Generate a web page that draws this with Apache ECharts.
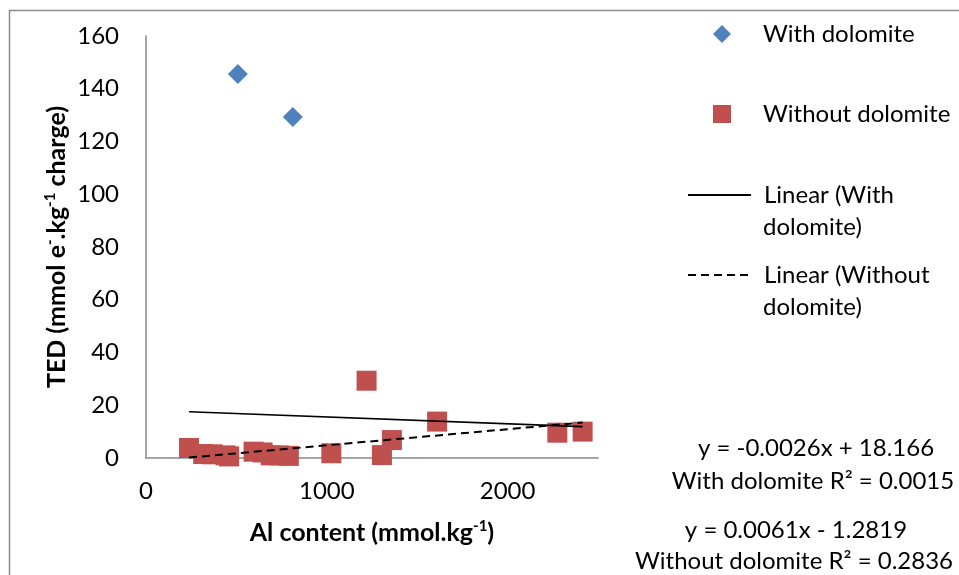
<!DOCTYPE html>
<html>
<head>
<meta charset="utf-8">
<script src="https://cdn.jsdelivr.net/npm/echarts@6/dist/echarts.min.js"></script>
<style>
  html, body { margin: 0; padding: 0; background: #fff; }
  #chart { width: 959px; height: 575px; }
</style>
</head>
<body>
<div id="chart"></div>
<script>
// values
const withDolomite = [[508, 145.6], [812, 129.3]];
const withoutDolomite = [
  [238, 3.8], [316, 1.5], [368, 1.4], [440, 1.0], [460, 0.6],
  [595, 2.4], [645, 2.1], [690, 1.0], [735, 1.0], [790, 0.8],
  [1025, 1.8], [1220, 29.3], [1305, 1.1], [1360, 6.8], [1610, 13.8],
  [2275, 9.6], [2415, 10.0]
];
// trend line end points (Excel linear fits as drawn)
const trendWith = [[238, 17.55], [2415, 11.89]];
const trendWithout = [[238, 0.17], [2415, 13.45]];
const equationLines = [
  'y = -0.0026x + 18.166',
  'With dolomite R\u00B2 = 0.0015',
  'y = 0.0061x - 1.2819',
  'Without dolomite R\u00B2 = 0.2836'
];

const FONT = 'Lato';
const TEXT_SIZE = 24;
const chart = echarts.init(document.getElementById('chart'));

const titleRich = {
  b: { fontFamily: FONT, fontSize: 25, fontWeight: 'bold', color: '#000', lineHeight: 28 },
  s: { fontFamily: FONT, fontSize: 15, fontWeight: 'bold', color: '#000', lineHeight: 28, padding: [0, 0, 13, 0] }
};

const legendText = { fontFamily: FONT, fontSize: TEXT_SIZE, color: '#000' };

function scatterLegend(name, top) {
  return {
    data: [name], left: 713, top: top, padding: 0,
    selectedMode: false, itemWidth: 18, itemHeight: 18,
    textStyle: Object.assign({}, legendText, { padding: [0, 0, 0, 27] })
  };
}

function lineLegend(name, label, top) {
  return {
    data: [name], left: 687, top: top, padding: 0,
    selectedMode: false, itemWidth: 63, itemHeight: 14,
    itemStyle: { opacity: 0 },
    formatter: () => label,
    textStyle: Object.assign({}, legendText, { padding: [0, 0, 0, 8] })
  };
}

function textItem(str, x, y) {
  return {
    type: 'text', x: x, y: y, silent: true,
    style: { text: str, fontFamily: FONT, fontSize: TEXT_SIZE, fill: '#000', align: 'center', verticalAlign: 'middle' }
  };
}

function leftText(str, x, y) {
  return {
    type: 'text', x: x, y: y, silent: true,
    style: { text: str, fontFamily: FONT, fontSize: TEXT_SIZE, fill: '#000', align: 'left', verticalAlign: 'middle' }
  };
}

const option = {
  animation: false,
  backgroundColor: '#fff',
  grid: { left: 146, right: 361, top: 36, bottom: 117 },
  xAxis: {
    type: 'value',
    min: 0,
    max: 2500,
    interval: 1000,
    name: '{b|Al content (mmol.kg}{s|-1}{b|)}',
    nameLocation: 'middle',
    nameGap: 61,
    nameTextStyle: { rich: titleRich },
    axisLine: { lineStyle: { color: '#868686', width: 1.5 } },
    axisTick: { show: false },
    splitLine: { show: false },
    axisLabel: {
      fontFamily: FONT, fontSize: TEXT_SIZE, color: '#000', margin: 21,
      showMaxLabel: false, formatter: (v) => String(v)
    }
  },
  yAxis: {
    type: 'value',
    min: 0,
    max: 160,
    interval: 20,
    name: '{b|TED (mmol e}{s|-}{b|.kg}{s|-1}{b| charge)}',
    nameLocation: 'middle',
    nameGap: 75,
    nameTextStyle: { rich: titleRich },
    axisLine: { show: true, lineStyle: { color: '#868686', width: 1.5 } },
    axisTick: { show: false },
    splitLine: { show: false },
    axisLabel: { fontFamily: FONT, fontSize: TEXT_SIZE, color: '#000', margin: 27 }
  },
  legend: [
    scatterLegend('With dolomite', 22),
    scatterLegend('Without dolomite', 102),
    lineLegend('Linear (With dolomite)', 'Linear (With', 183),
    lineLegend('Linear (Without dolomite)', 'Linear (Without', 263)
  ],
  graphic: [
    {
      type: 'rect', left: 7, top: 8, z: -10, silent: true,
      shape: { width: 1000, height: 1000 },
      style: { fill: 'none', stroke: '#8c8c8c', lineWidth: 1.5 }
    },
    leftText('dolomite)', 763, 227),
    leftText('dolomite)', 763, 307),
    textItem(equationLines[0], 816, 448),
    textItem(equationLines[1], 813, 481),
    textItem(equationLines[2], 796, 530),
    textItem(equationLines[3], 794, 561)
  ],
  series: [
    {
      name: 'With dolomite',
      type: 'scatter',
      symbol: 'diamond',
      symbolSize: 20,
      itemStyle: { color: '#4F81BD', opacity: 1 },
      data: withDolomite,
      z: 3
    },
    {
      name: 'Without dolomite',
      type: 'scatter',
      symbol: 'rect',
      symbolSize: 20,
      itemStyle: { color: '#C0504D', opacity: 1 },
      data: withoutDolomite,
      z: 3
    },
    {
      name: 'Linear (With dolomite)',
      type: 'line',
      symbol: 'none',
      itemStyle: { color: '#000' },
      lineStyle: { color: '#000', width: 1.6 },
      data: trendWith,
      z: 4
    },
    {
      name: 'Linear (Without dolomite)',
      type: 'line',
      symbol: 'none',
      itemStyle: { color: '#000' },
      lineStyle: { color: '#000', width: 2, type: [8, 5] },
      data: trendWithout,
      z: 4
    }
  ]
};

chart.setOption(option);
</script>
</body>
</html>
